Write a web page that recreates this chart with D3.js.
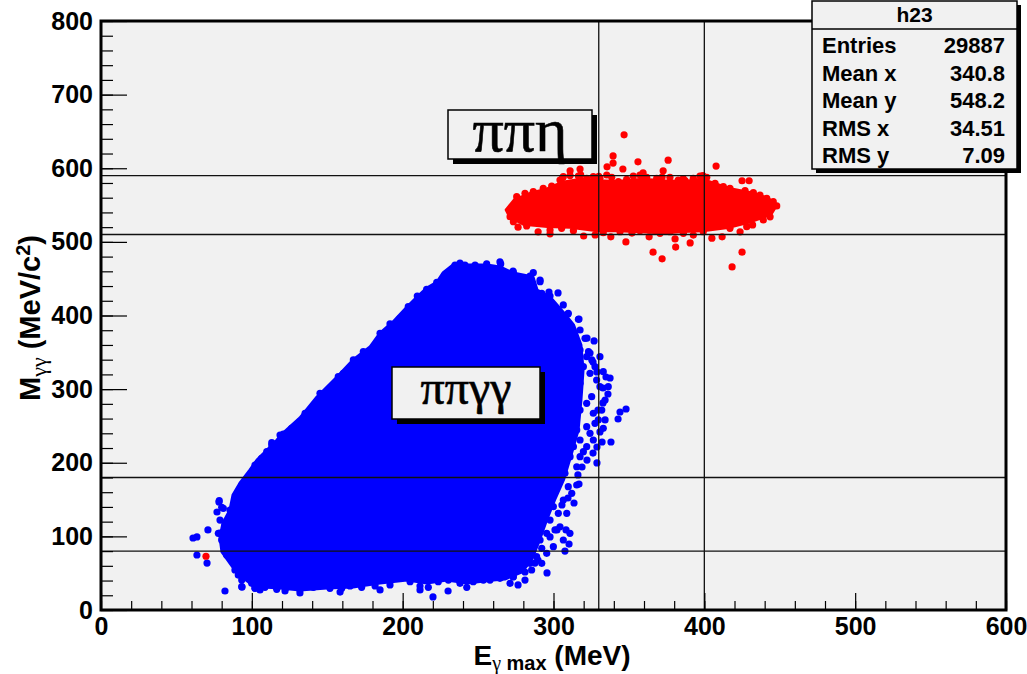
<!DOCTYPE html>
<html><head><meta charset="utf-8">
<script src="https://cdn.jsdelivr.net/npm/d3@7"></script>
<style>body{margin:0;background:#fff}svg{display:block}</style>
</head><body><svg id="c" width="1027" height="674"></svg>
<script>
// ---------------- data ----------------
const xTickValues = [0, 100, 200, 300, 400, 500, 600];
const yTickValues = [0, 100, 200, 300, 400, 500, 600, 700, 800];
const cutX = [330, 400];
const cutY = [80, 180, 510, 590];

// dense core of the blue (ππγγ) population, outline [E, M]
const blueCore = [
  [78.9,99.2],[80.9,118.2],[85.5,135.8],[87.5,156.2],[92.2,172.5],[98.8,190.2],[103.4,203.7],
  [110.1,217.3],[116.7,230.9],[120.7,240.4],[131.9,260.8],[143.2,289.3],[156.5,316.5],
  [167.1,339.6],[178.3,357.2],[185.0,376.2],[193.6,391.2],[202.9,411.5],[209.5,425.1],
  [216.1,437.4],[222.8,445.5],[226.7,457.7],[233.4,468.6],[246.6,468.6],[255.9,468.6],
  [264.5,465.9],[273.2,457.7],[286.4,452.3],[289.1,434.6],[297.7,425.1],[306.3,404.8],
  [313.3,387.1],[318.2,359.9],[319.6,326.0],[318.2,285.2],[316.3,244.5],[311.6,210.5],
  [306.6,176.6],[300.7,149.4],[295.4,122.2],[290.7,95.1],[285.4,67.9],[278.8,51.6],
  [267.8,42.1],[259.9,40.7],[242.7,36.7],[229.4,40.7],[216.1,36.7],[202.9,40.7],[185.0,36.7],
  [167.1,31.2],[149.8,29.9],[131.9,27.2],[118.7,29.9],[107.4,31.2],[98.8,36.7],[90.2,50.3],
  [85.5,63.8],[80.2,78.8]
];
// individual blue events around / outside the dense core [E, M]
const blueScatter = [
  [303.0,430.6],[309.6,402.0],[316.9,395.2],[322.2,369.4],[326.9,365.4],[324.2,349.1],
  [326.2,336.8],[328.8,323.3],[334.8,316.5],[337.5,315.1],[332.8,301.5],[336.1,293.4],
  [332.8,281.2],[329.5,271.6],[334.2,258.1],[348.1,273.0],[344.1,268.9],[342.8,259.4],
  [330.8,241.8],[338.1,228.2],[332.2,228.2],[328.8,221.4],[326.2,213.2],[328.8,199.7],
  [322.2,203.7],[318.9,194.2],[316.2,183.4],[316.9,171.1],[309.6,152.1],[313.6,145.3],
  [305.6,142.6],[308.3,108.7],[310.3,89.6],[307.6,80.1],[302.3,108.7],[297.7,99.2],
  [289.7,67.9],[295.7,50.3],[287.7,63.8],[281.1,51.6],[276.5,34.0],[273.2,44.8],
  [220.1,17.7],[230.1,25.8],[211.5,27.2],[185.0,27.2],[158.5,24.4],[131.9,23.1],
  [122.0,25.8],[105.4,27.2],[82.2,25.8],[93.5,31.2],[102.1,29.9],[70.3,63.8],[63.6,74.7],
  [61.0,97.8],[63.6,99.2],[70.9,108.7],[78.9,104.6],[78.2,146.7],[76.9,133.1],
  [238.0,471.3],[264.5,472.7],[273.2,460.4],[284.4,453.6],[291.1,448.2],[297.0,431.9],
  // upper-left edge
  [113.2,227.2],[120.9,239.0],[126.4,246.8],[131.9,255.8],[135.3,267.2],[145.2,294.3],
  [149.6,296.5],[157.3,316.9],[160.7,321.5],[167.3,339.6],[173.9,350.8],[185.0,375.8],
  [191.6,388.5],[198.2,396.2],[203.7,412.0],[209.7,426.5],[215.9,435.6],[222.6,445.1],
  [229.2,457.3],[234.7,468.6],[241.3,468.6],[248.0,468.6],[255.7,470.0],[265.0,470.0],
  [273.4,458.1],[286.6,458.1],[291.1,445.9],[292.2,430.2],[297.7,426.5],[306.5,414.3],
  [309.8,403.0],[316.5,394.8],[317.6,380.3],[320.9,369.0],[315.4,359.9],[323.2,350.8],
  [325.4,339.6],
  // ragged right side
  [317.6,353.1],[322.0,344.1],[319.8,330.5],[324.2,321.5],[317.6,307.9],[328.6,312.4],
  [330.8,303.3],[325.3,289.7],[322.0,280.7],[317.6,271.6],[326.4,267.2],[329.7,258.1],
  [322.0,249.0],[315.4,244.5],[324.2,240.0],[317.6,230.9],[313.2,221.8],[319.8,215.1],
  [311.0,208.2],[315.4,194.6],[307.6,185.6],[304.3,176.6],[309.8,167.5],[301.0,160.7],
  [306.5,149.4],[299.9,140.3],[303.2,131.3],[297.7,122.2],[301.0,108.7],[295.5,104.2],
  [291.1,95.1],[286.6,86.0],[292.2,83.8],[282.2,77.0],[284.4,63.4],[277.8,67.9],
  [273.4,58.8],[269.0,54.3],[264.5,45.2],[257.9,40.7],
  [330.8,344.1],[327.5,330.5],[333.0,323.7],[336.3,303.3],[334.2,285.2],[332.0,271.6],
  [327.5,253.6],[333.0,246.8],[326.4,230.9],[322.0,221.8],[317.6,208.2],[315.4,169.8],
  [312.1,158.5],[308.8,131.3],[304.3,113.1],[310.9,104.2],[306.5,95.1],[299.9,86.0],
  [295.5,77.0],[292.2,63.4],[288.8,72.4],[285.5,54.3],[281.1,40.7],[271.2,36.2],[266.7,49.8],
  // bottom edge
  [93.3,31.7],[102.1,29.4],[108.7,30.8],[116.5,28.1],[123.1,30.8],[131.9,27.2],[140.8,30.8],
  [151.8,29.4],[159.6,29.4],[165.1,32.6],[172.8,30.8],[181.7,32.6],[191.6,34.0],[204.9,38.5],
  [211.5,32.6],[217.0,30.8],[223.6,38.5],[230.3,40.7],[238.0,36.2],[242.5,30.8],[246.8,38.5],
  [253.5,40.7],[264.5,43.0],[273.4,45.2],
  // left edge
  [81.1,138.1],[78.9,122.2],[82.2,115.4],[77.8,104.2],[80.0,95.1],[84.4,86.0],[83.3,74.7],
  [87.7,65.6],[88.8,54.3],[91.0,47.5],[93.3,40.7],[97.7,52.0],[99.9,36.2],
  [78.4,148.5],[80.0,139.5],[85.5,135.8],[86.6,126.7],[91.0,158.5],[93.3,169.8],[96.6,174.3],
  [99.9,185.7],[102.1,196.9],[106.5,206.0],[109.9,215.1],[113.2,224.1],[118.7,237.7]
];
// dense core of the red (ππη) population, outline [E, M]
const redCore = [
  [268.6,543.5],[274,557],[284.5,566],[295.8,572],[306,581],[318,585],[330,583],[342,582],
  [359,585],[373,583],[386,582],[399,585],[408.5,578],[418,572],[430,567],[441.6,560],
  [448,550],[444,537],[430,527],[417,520],[399,515],[386,514],[372.7,512],[355,514],
  [342,515],[329,515],[311,520],[296,521],[280,524],[271,534]
];
const redScatter = [
  [346.8,645.4],[339.5,616.8],[339.5,607],[356,608.7],[376,611],[407.8,603],[346,599],
  [335.5,602],[311,596.5],[317.6,599],[372.7,596.5],[359.4,593.7],[425,583],[429.7,583],
  [311,590],[318,591],[330,589],[359,590],[372,588],[399,590],[401,587],[306,587],[386,586],
  [276.5,520],[289.8,513.6],[297.7,511],[320,508],[327.6,509.5],[338,506.8],[348,500],
  [352,512],[363.4,506.8],[380.6,504],[381,493],[366,486],[372,477],[390.6,498.6],[405,505],
  [411.8,506.8],[425,486],[418.4,466],[423.7,513.6],[432,523],[443.6,534],[69.6,73],
  // top edge
  [275.6,561.4],[281.1,565.9],[286.6,568.2],[293.2,572.7],[298.8,575.9],[304.3,584.0],
  [306.5,588.5],[316.5,589.5],[322.0,586.3],[326.4,588.5],[330.8,586.3],[335.3,590.8],
  [338.6,587.7],[343.0,581.7],[348.5,585.0],[352.9,589.5],[357.3,590.8],[361.8,587.7],
  [368.4,586.3],[377.2,587.7],[382.7,584.0],[387.2,583.1],[392.7,586.3],[397.1,589.5],
  [401.6,587.7],[407.1,579.6],[412.6,575.0],[417.0,572.7],[427.0,569.5],[432.5,566.8],
  [436.9,563.7],[441.4,559.2],[445.7,554.6],[448.0,548.8],
  // bottom edge
  [271.2,534.2],[273.4,527.4],[282.2,521.6],[297.7,516.1],[305.4,518.4],[313.2,515.2],
  [333.0,512.5],[344.1,513.8],[357.3,515.2],[370.6,511.6],[377.2,513.8],[386.1,511.6],
  [392.7,509.3],[399.3,513.8],[417.0,518.4],[428.1,520.6],[439.1,529.7]
];
const statsTitle = "h23";
const statsLabels = ["Entries", "Mean x", "Mean y", "RMS x", "RMS y"];
const statsValues = ["29887", "340.8", "548.2", "34.51", "7.09"];

// ---------------- drawing ----------------
const svg = d3.select("#c");
const L = 101, R = 1006, T = 21, B = 610;
const x = d3.scaleLinear().domain([0, 600]).range([L, R]);
const y = d3.scaleLinear().domain([0, 800]).range([B, T]);
const SANS = "'Liberation Sans', Arial, Helvetica, sans-serif";
const SERIF = "'Liberation Serif', 'Times New Roman', serif";

svg.append("rect").attr("x", L).attr("y", T).attr("width", R - L).attr("height", B - T).attr("fill", "#f1f1f1");

svg.append("clipPath").attr("id", "fr").append("rect")
  .attr("x", L).attr("y", T).attr("width", R - L).attr("height", B - T);
const g = svg.append("g").attr("clip-path", "url(#fr)");

const line = d3.line().x(d => x(d[0])).y(d => y(d[1])).curve(d3.curveLinearClosed);
g.append("path").attr("d", line(blueCore)).attr("fill", "#0000ff").attr("stroke", "#0000ff")
  .attr("stroke-width", 3).attr("stroke-linejoin", "round");
g.selectAll("circle.b").data(blueScatter).join("circle").attr("class", "b")
  .attr("cx", d => x(d[0])).attr("cy", d => y(d[1])).attr("r", 3.6).attr("fill", "#0000ff");
g.append("path").attr("d", line(redCore)).attr("fill", "#ff0000").attr("stroke", "#ff0000")
  .attr("stroke-width", 3).attr("stroke-linejoin", "round");
g.selectAll("circle.r").data(redScatter).join("circle").attr("class", "r")
  .attr("cx", d => x(d[0])).attr("cy", d => y(d[1])).attr("r", 3.6).attr("fill", "#ff0000");

// cut lines
g.selectAll("line.cx").data(cutX).join("line").attr("x1", d => x(d)).attr("x2", d => x(d))
  .attr("y1", T).attr("y2", B).attr("stroke", "#111").attr("stroke-width", 1.3);
g.selectAll("line.cy").data(cutY).join("line").attr("y1", d => y(d)).attr("y2", d => y(d))
  .attr("x1", L).attr("x2", R).attr("stroke", "#111").attr("stroke-width", 1.3);

// axes
const xMinor = svg.append("g").attr("transform", `translate(0,${B})`)
  .call(d3.axisBottom(x).ticks(30).tickSize(-9).tickFormat(""));
const xMajor = svg.append("g").attr("transform", `translate(0,${B})`)
  .call(d3.axisBottom(x).tickValues(xTickValues).tickSize(-17).tickPadding(7).tickFormat(d3.format("d")));
const yMinor = svg.append("g").attr("transform", `translate(${L},0)`)
  .call(d3.axisLeft(y).ticks(40).tickSize(-12).tickFormat(""));
const yMajor = svg.append("g").attr("transform", `translate(${L},0)`)
  .call(d3.axisLeft(y).tickValues(yTickValues).tickSize(-26).tickPadding(8).tickFormat(d3.format("d")));
[xMinor, xMajor, yMinor, yMajor].forEach(a => {
  a.select(".domain").remove();
  a.selectAll("line").attr("stroke", "#000").attr("stroke-width", 1.2);
  a.selectAll("text").attr("font-family", SANS).attr("font-weight", "bold").attr("font-size", 25).attr("fill", "#000");
});

// frame
svg.append("rect").attr("x", L).attr("y", T).attr("width", R - L).attr("height", B - T)
  .attr("fill", "none").attr("stroke", "#000").attr("stroke-width", 3);

// axis titles
const xt = svg.append("text").attr("x", 552).attr("y", 665).attr("text-anchor", "middle")
  .attr("font-family", SANS).attr("font-weight", "bold").attr("font-size", 28);
xt.append("tspan").text("E");
xt.append("tspan").attr("dy", 5).attr("font-size", 20).attr("font-family", SERIF).attr("font-weight", "normal").text("γ");
xt.append("tspan").attr("font-size", 20).text(" max");
xt.append("tspan").attr("dy", -5).text(" (MeV)");

const yt = svg.append("text").attr("transform", "translate(40,318) rotate(-90)").attr("text-anchor", "middle")
  .attr("font-family", SANS).attr("font-weight", "bold").attr("font-size", 29);
yt.append("tspan").text("M");
yt.append("tspan").attr("dy", 6).attr("font-size", 22).attr("font-family", SERIF).attr("font-weight", "normal").text("γγ");
yt.append("tspan").attr("dy", -6).text(" (MeV/c");
yt.append("tspan").attr("dy", -10).attr("font-size", 20).text("2");
yt.append("tspan").attr("dy", 10).text(")");

// label boxes
function labelBox(x0, y0, w, h, txt, fs, ty) {
  svg.append("rect").attr("x", x0 + 5).attr("y", y0 + 5).attr("width", w).attr("height", h).attr("fill", "#000");
  svg.append("rect").attr("x", x0).attr("y", y0).attr("width", w).attr("height", h)
    .attr("fill", "#f1f1f1").attr("stroke", "#000").attr("stroke-width", 1.5);
  svg.append("text").attr("x", x0 + w / 2).attr("y", ty).attr("text-anchor", "middle")
    .attr("font-family", SERIF).attr("font-size", fs).attr("fill", "#000")
    .attr("stroke", "#000").attr("stroke-width", 0.6).text(txt);
}
labelBox(448, 110, 144, 49, "ππη", 62, 151);
labelBox(392, 367, 148, 52, "ππγγ", 48, 404);

// stats box
const sx = 812, sy = 1, sw = 205, sh = 168;
svg.append("rect").attr("x", sx + 4).attr("y", sy + 4).attr("width", sw).attr("height", sh).attr("fill", "#000");
svg.append("rect").attr("x", sx).attr("y", sy).attr("width", sw).attr("height", sh)
  .attr("fill", "#f1f1f1").attr("stroke", "#000").attr("stroke-width", 1.5);
svg.append("line").attr("x1", sx).attr("x2", sx + sw).attr("y1", 29).attr("y2", 29).attr("stroke", "#000").attr("stroke-width", 1.5);
svg.append("text").attr("x", sx + sw / 2).attr("y", 22).attr("text-anchor", "middle")
  .attr("font-family", SANS).attr("font-weight", "bold").attr("font-size", 21).text(statsTitle);
const rowY = d3.scaleLinear().domain([0, 4]).range([53, 163]);
svg.selectAll("text.sl").data(statsLabels).join("text").attr("class", "sl")
  .attr("x", 822).attr("y", (d, i) => rowY(i)).attr("font-family", SANS).attr("font-weight", "bold")
  .attr("font-size", 22).text(d => d);
svg.selectAll("text.sv").data(statsValues).join("text").attr("class", "sv")
  .attr("x", 1005).attr("y", (d, i) => rowY(i)).attr("text-anchor", "end").attr("font-family", SANS)
  .attr("font-weight", "bold").attr("font-size", 22).text(d => d);
</script></body></html>
